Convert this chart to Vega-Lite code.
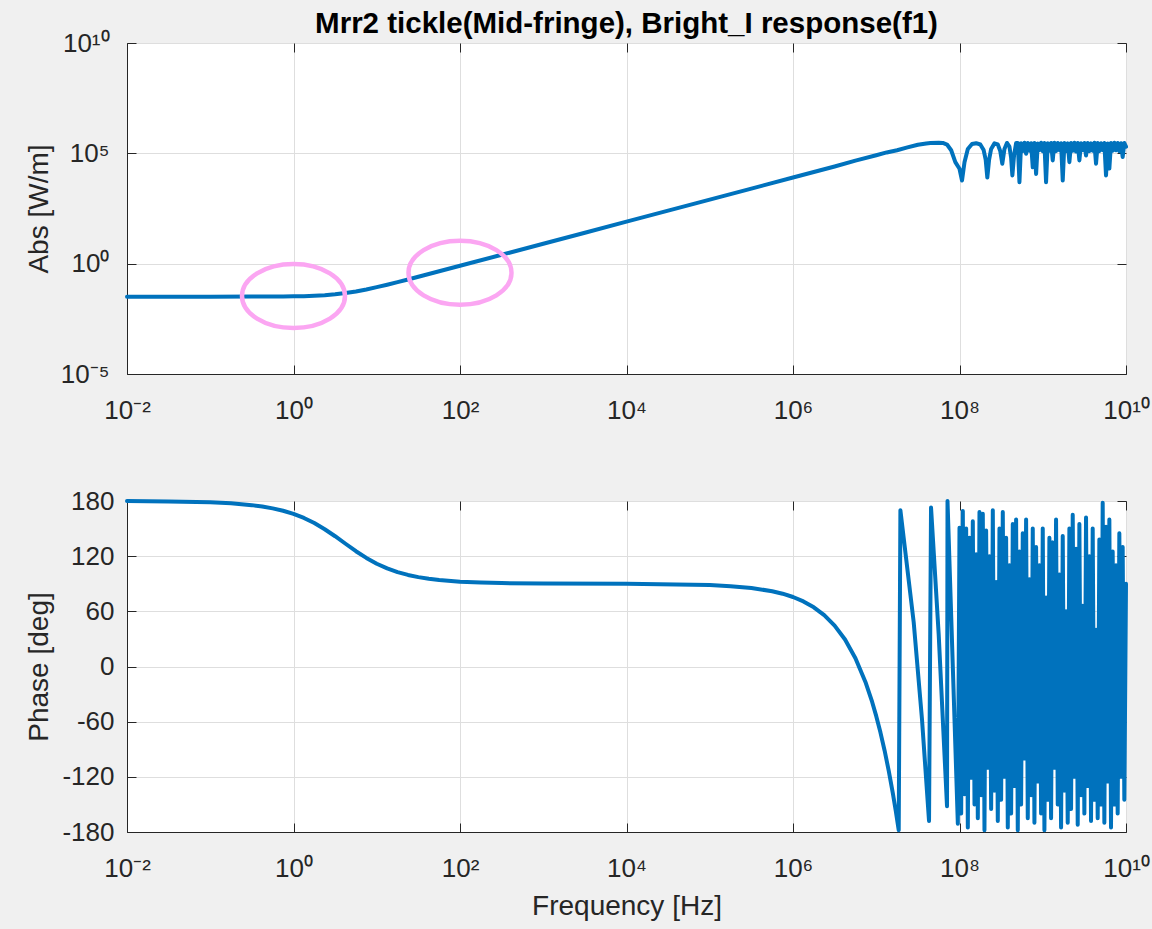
{
  "$schema": "https://vega.github.io/schema/vega-lite/v6.json",
  "background": "#f0f0f0",
  "padding": {"left": 24, "top": 8, "right": 3, "bottom": 10},
  "bounds": "flush",
  "spacing": 127,
  "datasets": {
    "mag": [
      {"f": 0.01, "abs": 0.032}, {"f": 0.0316, "abs": 0.032}, {"f": 0.1, "abs": 0.032}, {"f": 0.316, "abs": 0.0321},
      {"f": 0.562, "abs": 0.0323}, {"f": 0.75, "abs": 0.03256}, {"f": 1, "abs": 0.033}, {"f": 1.334, "abs": 0.03373},
      {"f": 1.778, "abs": 0.035}, {"f": 2.371, "abs": 0.0372}, {"f": 3.162, "abs": 0.0408}, {"f": 4.217, "abs": 0.0465},
      {"f": 5.623, "abs": 0.0552}, {"f": 7.499, "abs": 0.068}, {"f": 10, "abs": 0.0862}, {"f": 13.34, "abs": 0.1114},
      {"f": 17.78, "abs": 0.1458}, {"f": 23.71, "abs": 0.1924}, {"f": 31.62, "abs": 0.255}, {"f": 42.17, "abs": 0.339},
      {"f": 56.23, "abs": 0.451}, {"f": 100, "abs": 0.8006}, {"f": 316.2, "abs": 2.53}, {"f": 1000, "abs": 8.0},
      {"f": 3162, "abs": 25.3}, {"f": 10000, "abs": 80}, {"f": 31623, "abs": 253}, {"f": 100000, "abs": 800},
      {"f": 316228, "abs": 2530}, {"f": 1000000, "abs": 8000}, {"f": 3162278, "abs": 25300}, {"f": 5623000, "abs": 46800},
      {"f": 1e7, "abs": 82000}, {"f": 1.334e7, "abs": 110000}, {"f": 1.778e7, "abs": 138000}, {"f": 2.371e7, "abs": 185000},
      {"f": 3.162e7, "abs": 245000}, {"f": 3.981e7, "abs": 280000}, {"f": 4.467e7, "abs": 295000}, {"f": 5.623e7, "abs": 305000},
      {"f": 6.310e7, "abs": 295000}, {"f": 7.079e7, "abs": 251000}, {"f": 7.943e7, "abs": 138000}, {"f": 8.913e7, "abs": 39800},
      {"f": 1e8, "abs": 20000}, {"f": 1.072e8, "abs": 5890}, {"f": 1.148e8, "abs": 39800}, {"f": 1.259e8, "abs": 158000},
      {"f": 1.413e8, "abs": 263000}, {"f": 1.585e8, "abs": 288000}, {"f": 1.778e8, "abs": 251000}, {"f": 1.950e8, "abs": 141000},
      {"f": 2.065e8, "abs": 50100}, {"f": 2.158e8, "abs": 7940}, {"f": 2.265e8, "abs": 50100}, {"f": 2.399e8, "abs": 158000},
      {"f": 2.630e8, "abs": 282000}, {"f": 2.884e8, "abs": 251000}, {"f": 3.090e8, "abs": 126000}, {"f": 3.266e8, "abs": 33900},
      {"f": 3.467e8, "abs": 158000}, {"f": 3.715e8, "abs": 295000}, {"f": 3.981e8, "abs": 200000}, {"f": 4.169e8, "abs": 63100},
      {"f": 4.315e8, "abs": 10000}, {"f": 4.519e8, "abs": 79400}, {"f": 4.786e8, "abs": 295000},
      {"f": 5.012e8, "abs": 295000}, {"f": 5.248e8, "abs": 4900}, {"f": 5.495e8, "abs": 288000}, {"f": 5.754e8, "abs": 126000},
      {"f": 6.026e8, "abs": 302000}, {"f": 6.310e8, "abs": 95500}, {"f": 6.607e8, "abs": 295000}, {"f": 6.918e8, "abs": 132000},
      {"f": 7.244e8, "abs": 288000}, {"f": 7.586e8, "abs": 23400}, {"f": 7.943e8, "abs": 295000}, {"f": 8.318e8, "abs": 11700},
      {"f": 8.710e8, "abs": 282000}, {"f": 9.120e8, "abs": 141000}, {"f": 9.550e8, "abs": 302000}, {"f": 1e9, "abs": 126000},
      {"f": 1.047e9, "abs": 295000}, {"f": 1.096e9, "abs": 4900}, {"f": 1.148e9, "abs": 288000}, {"f": 1.202e9, "abs": 132000},
      {"f": 1.259e9, "abs": 295000}, {"f": 1.318e9, "abs": 47900}, {"f": 1.380e9, "abs": 302000}, {"f": 1.445e9, "abs": 126000},
      {"f": 1.514e9, "abs": 295000}, {"f": 1.585e9, "abs": 141000}, {"f": 1.660e9, "abs": 288000}, {"f": 1.738e9, "abs": 5890},
      {"f": 1.820e9, "abs": 295000}, {"f": 1.905e9, "abs": 126000}, {"f": 1.995e9, "abs": 282000}, {"f": 2.089e9, "abs": 39800},
      {"f": 2.188e9, "abs": 295000}, {"f": 2.291e9, "abs": 132000}, {"f": 2.399e9, "abs": 302000}, {"f": 2.512e9, "abs": 120000},
      {"f": 2.630e9, "abs": 295000}, {"f": 2.754e9, "abs": 47900}, {"f": 2.884e9, "abs": 288000}, {"f": 3.020e9, "abs": 141000},
      {"f": 3.162e9, "abs": 295000}, {"f": 3.311e9, "abs": 79400}, {"f": 3.467e9, "abs": 295000}, {"f": 3.631e9, "abs": 126000},
      {"f": 3.802e9, "abs": 282000}, {"f": 3.981e9, "abs": 132000}, {"f": 4.169e9, "abs": 302000}, {"f": 4.365e9, "abs": 33900},
      {"f": 4.571e9, "abs": 295000}, {"f": 4.786e9, "abs": 126000}, {"f": 5.012e9, "abs": 288000}, {"f": 5.248e9, "abs": 141000},
      {"f": 5.495e9, "abs": 295000}, {"f": 5.754e9, "abs": 10000}, {"f": 6.026e9, "abs": 282000}, {"f": 6.310e9, "abs": 20400},
      {"f": 6.607e9, "abs": 295000}, {"f": 6.918e9, "abs": 132000}, {"f": 7.244e9, "abs": 302000}, {"f": 7.586e9, "abs": 138000},
      {"f": 7.943e9, "abs": 295000}, {"f": 8.318e9, "abs": 126000}, {"f": 8.710e9, "abs": 288000}, {"f": 9.120e9, "abs": 67600},
      {"f": 9.550e9, "abs": 295000}, {"f": 1e10, "abs": 200000}
    ],
    "ellipses": [
      {"f": 1, "abs": 0.0345},
      {"f": 100, "abs": 0.39}
    ],
    "phase": [
      {"f": 0.01, "phase": 179.9}, {"f": 0.0316, "phase": 179.5}, {"f": 0.1, "phase": 178.6}, {"f": 0.1778, "phase": 177.5},
      {"f": 0.316, "phase": 175.5}, {"f": 0.4217, "phase": 174.0}, {"f": 0.562, "phase": 172}, {"f": 0.7499, "phase": 169.4},
      {"f": 1, "phase": 166}, {"f": 1.334, "phase": 161.6}, {"f": 1.778, "phase": 156}, {"f": 2.371, "phase": 149.3},
      {"f": 3.162, "phase": 141.7}, {"f": 4.217, "phase": 133.5}, {"f": 5.623, "phase": 125.4}, {"f": 7.499, "phase": 118.1},
      {"f": 10, "phase": 111.8}, {"f": 13.34, "phase": 106.7}, {"f": 17.78, "phase": 102.7}, {"f": 23.71, "phase": 99.6},
      {"f": 31.62, "phase": 97.2}, {"f": 42.17, "phase": 95.4}, {"f": 56.23, "phase": 94.1}, {"f": 100, "phase": 92.3},
      {"f": 177.8, "phase": 91.3}, {"f": 316.2, "phase": 90.7}, {"f": 1000, "phase": 90.2},
      {"f": 10000, "phase": 90}, {"f": 100000, "phase": 88.6}, {"f": 177828, "phase": 87.4}, {"f": 316228, "phase": 85.4},
      {"f": 562341, "phase": 81.9}, {"f": 749900, "phase": 79.2}, {"f": 1000000, "phase": 75.6}, {"f": 1334000, "phase": 70.8},
      {"f": 1778279, "phase": 64.4}, {"f": 2371000, "phase": 55.9}, {"f": 3162278, "phase": 44.5},
      {"f": 4217000, "phase": 29.3}, {"f": 5623000, "phase": 9.0}, {"f": 7499000, "phase": -18}, {"f": 8913000, "phase": -38.3},
      {"f": 1e7, "phase": -54}, {"f": 1.122e7, "phase": -71.6}, {"f": 1.259e7, "phase": -91.3}, {"f": 1.413e7, "phase": -113.5},
      {"f": 1.585e7, "phase": -138.2}, {"f": 1.718e7, "phase": -157.4}, {"f": 1.862e7, "phase": -178.1}, {"f": 1.950e7, "phase": 170},
      {"f": 2.818e7, "phase": 48}, {"f": 3.548e7, "phase": -58}, {"f": 4.305e7, "phase": -168}, {"f": 4.550e7, "phase": 173},
      {"f": 5.623e7, "phase": 35}, {"f": 7.079e7, "phase": -152}, {"f": 7.178e7, "phase": 180}, {"f": 9.550e7, "phase": -171},
      {"f": 1e8, "phase": 151}, {"f": 1.047e8, "phase": -160}, {"f": 1.096e8, "phase": 169}, {"f": 1.148e8, "phase": -139},
      {"f": 1.202e8, "phase": 150}, {"f": 1.259e8, "phase": -175}, {"f": 1.318e8, "phase": 140}, {"f": 1.380e8, "phase": -121},
      {"f": 1.445e8, "phase": 158}, {"f": 1.514e8, "phase": -150}, {"f": 1.585e8, "phase": 122}, {"f": 1.660e8, "phase": -165},
      {"f": 1.738e8, "phase": 168}, {"f": 1.820e8, "phase": -140}, {"f": 1.905e8, "phase": 166}, {"f": 1.995e8, "phase": -178},
      {"f": 2.089e8, "phase": 148}, {"f": 2.188e8, "phase": -110}, {"f": 2.291e8, "phase": 120}, {"f": 2.399e8, "phase": -155},
      {"f": 2.512e8, "phase": 170}, {"f": 2.630e8, "phase": -135}, {"f": 2.754e8, "phase": 92}, {"f": 2.884e8, "phase": -168},
      {"f": 3.020e8, "phase": 150}, {"f": 3.162e8, "phase": -145}, {"f": 3.311e8, "phase": 168}, {"f": 3.467e8, "phase": -120},
      {"f": 3.631e8, "phase": 140}, {"f": 3.802e8, "phase": -175}, {"f": 3.981e8, "phase": 110}, {"f": 4.169e8, "phase": -160},
      {"f": 4.365e8, "phase": 155}, {"f": 4.571e8, "phase": -130}, {"f": 4.786e8, "phase": 160}, {"f": 5.012e8, "phase": -178},
      {"f": 5.248e8, "phase": 125}, {"f": 5.495e8, "phase": -150}, {"f": 5.754e8, "phase": 145}, {"f": 6.026e8, "phase": -100},
      {"f": 6.310e8, "phase": 160}, {"f": 6.607e8, "phase": -165}, {"f": 6.918e8, "phase": 95}, {"f": 7.244e8, "phase": -140},
      {"f": 7.586e8, "phase": 150}, {"f": 7.943e8, "phase": -170}, {"f": 8.318e8, "phase": 130}, {"f": 8.710e8, "phase": -125},
      {"f": 9.120e8, "phase": 110}, {"f": 9.550e8, "phase": -160}, {"f": 1e9, "phase": 150}, {"f": 1.047e9, "phase": -178},
      {"f": 1.096e9, "phase": 75}, {"f": 1.148e9, "phase": -145}, {"f": 1.202e9, "phase": 140}, {"f": 1.259e9, "phase": -165},
      {"f": 1.318e9, "phase": 135}, {"f": 1.380e9, "phase": -110}, {"f": 1.445e9, "phase": 160}, {"f": 1.514e9, "phase": -150},
      {"f": 1.585e9, "phase": 100}, {"f": 1.660e9, "phase": -175}, {"f": 1.738e9, "phase": 142}, {"f": 1.820e9, "phase": -135},
      {"f": 1.905e9, "phase": 60}, {"f": 1.995e9, "phase": -170}, {"f": 2.089e9, "phase": 150}, {"f": 2.188e9, "phase": -155},
      {"f": 2.291e9, "phase": 165}, {"f": 2.399e9, "phase": -120}, {"f": 2.512e9, "phase": 128}, {"f": 2.630e9, "phase": -172},
      {"f": 2.754e9, "phase": 155}, {"f": 2.884e9, "phase": -140}, {"f": 3.020e9, "phase": 66}, {"f": 3.162e9, "phase": -160},
      {"f": 3.311e9, "phase": 162}, {"f": 3.467e9, "phase": -130}, {"f": 3.631e9, "phase": 120}, {"f": 3.802e9, "phase": -168},
      {"f": 3.981e9, "phase": 150}, {"f": 4.169e9, "phase": -145}, {"f": 4.365e9, "phase": 40}, {"f": 4.571e9, "phase": -165},
      {"f": 4.786e9, "phase": 138}, {"f": 5.012e9, "phase": -150}, {"f": 5.248e9, "phase": 178}, {"f": 5.495e9, "phase": -170},
      {"f": 5.754e9, "phase": 152}, {"f": 6.026e9, "phase": -125}, {"f": 6.310e9, "phase": 160}, {"f": 6.607e9, "phase": -175},
      {"f": 6.918e9, "phase": 125}, {"f": 7.244e9, "phase": -150}, {"f": 7.586e9, "phase": 110}, {"f": 7.943e9, "phase": -160},
      {"f": 8.318e9, "phase": 145}, {"f": 8.710e9, "phase": -120}, {"f": 9.120e9, "phase": 130}, {"f": 9.550e9, "phase": -145},
      {"f": 1e10, "phase": 90}
    ]
  },
  "vconcat": [
    {
      "width": 999,
      "height": 331,
      "title": {
        "text": "Mrr2 tickle(Mid-fringe), Bright_I response(f1)",
        "frame": "group",
        "anchor": "middle",
        "font": "Liberation Sans",
        "fontSize": 29.5,
        "fontWeight": "bold",
        "color": "#000000",
        "baseline": "alphabetic",
        "offset": -32
      },
      "layer": [
        {
          "data": {"name": "mag"},
          "mark": {"type": "line", "color": "#0072BD", "strokeWidth": 4, "strokeJoin": "round", "strokeCap": "round"},
          "encoding": {
            "x": {
              "field": "f",
              "type": "quantitative",
              "scale": {"type": "log", "domain": [0.01, 1e10], "nice": false},
              "axis": {
                "values": [0.01, 1, 100, 10000, 1000000, 100000000, 10000000000],
                "labelExpr": "'10' + replace(replace(replace(replace(replace(replace(replace(replace('' + round(log(datum.value) / LN10), '-', '⁻'), '0', '⁰'), '1', '¹'), '2', '²'), '4', '⁴'), '5', '⁵'), '6', '⁶'), '8', '⁸')",
                "labelBaseline": "alphabetic",
                "labelPadding": 53,
                "grid": true,
                "title": null
              }
            },
            "y": {
              "field": "abs",
              "type": "quantitative",
              "scale": {"type": "log", "domain": [0.00001, 10000000000], "nice": false},
              "axis": {
                "values": [0.00001, 1, 100000, 10000000000],
                "labelExpr": "'10' + replace(replace(replace(replace(replace(replace(replace(replace('' + round(log(datum.value) / LN10), '-', '⁻'), '0', '⁰'), '1', '¹'), '2', '²'), '4', '⁴'), '5', '⁵'), '6', '⁶'), '8', '⁸')",
                "labelPadding": 27,
                "grid": true,
                "title": "Abs [W/m]",
                "titleX": -80,
                "titleY": 165.5,
                "titleBaseline": "alphabetic",
                "titleAlign": "center"
              }
            }
          }
        },
        {
          "data": {"name": "ellipses"},
          "mark": {
            "type": "point",
            "shape": "M 1 0 C 1 0.343 0.552 0.621 0 0.621 C -0.552 0.621 -1 0.343 -1 0 C -1 -0.343 -0.552 -0.621 0 -0.621 C 0.552 -0.621 1 -0.343 1 0 Z",
            "size": 10609,
            "filled": false,
            "stroke": "#fba6f2",
            "strokeWidth": 4.5,
            "opacity": 1
          },
          "encoding": {
            "x": {
              "field": "f",
              "type": "quantitative",
              "scale": {"type": "log", "domain": [0.01, 1e10], "nice": false},
              "axis": {
                "orient": "top",
                "values": [0.01, 1, 100, 10000, 1000000, 100000000, 10000000000],
                "labels": false,
                "domain": false,
                "grid": false,
                "title": null
              }
            },
            "y": {
              "field": "abs",
              "type": "quantitative",
              "scale": {"type": "log", "domain": [0.00001, 10000000000], "nice": false},
              "axis": {
                "orient": "right",
                "values": [0.00001, 1, 100000, 10000000000],
                "labels": false,
                "domain": false,
                "grid": false,
                "title": null
              }
            }
          }
        }
      ],
      "resolve": {"axis": {"x": "independent", "y": "independent"}}
    },
    {
      "width": 999,
      "height": 331,
      "data": {"name": "phase"},
      "layer": [
        {
          "mark": {"type": "line", "color": "#0072BD", "strokeWidth": 4, "strokeJoin": "round", "strokeCap": "round"},
          "encoding": {
            "x": {
              "field": "f",
              "type": "quantitative",
              "scale": {"type": "log", "domain": [0.01, 1e10], "nice": false},
              "axis": {
                "values": [0.01, 1, 100, 10000, 1000000, 100000000, 10000000000],
                "labelExpr": "'10' + replace(replace(replace(replace(replace(replace(replace(replace('' + round(log(datum.value) / LN10), '-', '⁻'), '0', '⁰'), '1', '¹'), '2', '²'), '4', '⁴'), '5', '⁵'), '6', '⁶'), '8', '⁸')",
                "labelBaseline": "alphabetic",
                "labelPadding": 53,
                "grid": true,
                "title": "Frequency [Hz]",
                "titleBaseline": "alphabetic",
                "titleY": 82
              }
            },
            "y": {
              "field": "phase",
              "type": "quantitative",
              "scale": {"domain": [-180, 180], "nice": false, "zero": false},
              "axis": {
                "values": [-180, -120, -60, 0, 60, 120, 180],
                "labelExpr": "'' + datum.value",
                "labelPadding": 22,
                "grid": true,
                "title": "Phase [deg]",
                "titleX": -80,
                "titleY": 165.5,
                "titleBaseline": "alphabetic",
                "titleAlign": "center"
              }
            }
          }
        },
        {
          "mark": {"type": "point", "opacity": 0},
          "encoding": {
            "x": {
              "field": "f",
              "type": "quantitative",
              "scale": {"type": "log", "domain": [0.01, 1e10], "nice": false},
              "axis": {
                "orient": "top",
                "values": [0.01, 1, 100, 10000, 1000000, 100000000, 10000000000],
                "labels": false,
                "domain": false,
                "grid": false,
                "title": null
              }
            },
            "y": {
              "field": "phase",
              "type": "quantitative",
              "scale": {"domain": [-180, 180], "nice": false, "zero": false},
              "axis": {
                "orient": "right",
                "values": [-180, -120, -60, 0, 60, 120, 180],
                "labels": false,
                "domain": false,
                "grid": false,
                "title": null
              }
            }
          }
        }
      ],
      "resolve": {"axis": {"x": "independent", "y": "independent"}}
    }
  ],
  "config": {
    "font": "Liberation Sans",
    "view": {"fill": "white", "stroke": "#262626", "strokeWidth": 1},
    "axis": {
      "labelFont": "Liberation Sans",
      "labelFontSize": 26,
      "labelColor": "#262626",
      "titleFont": "Liberation Sans",
      "titleFontSize": 28,
      "titleFontWeight": "normal",
      "titleColor": "#262626",
      "domainColor": "#262626",
      "domainWidth": 1,
      "tickColor": "#262626",
      "tickSize": -9,
      "tickWidth": 1,
      "gridColor": "#dedede",
      "gridWidth": 1,
      "gridOpacity": 1,
      "labelOverlap": false,
      "labelFlush": false,
      "labelBound": false
    }
  }
}
